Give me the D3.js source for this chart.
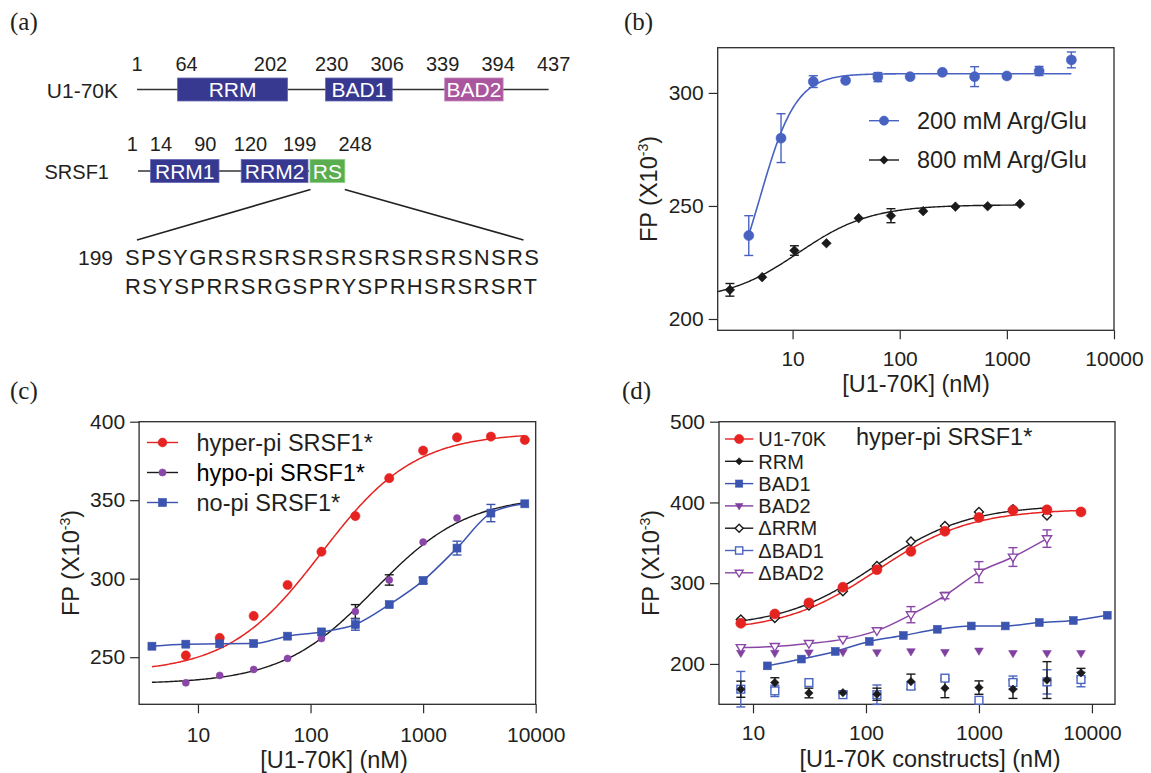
<!DOCTYPE html>
<html>
<head>
<meta charset="utf-8">
<script src="https://cdn.jsdelivr.net/npm/d3@7"></script>
<style>
  body { margin: 0; background: #ffffff; }
  svg { display: block; }
</style>
</head>
<body>
<svg id="fig" width="1151" height="773"></svg>
<script>
// ---------------- (a) domain schematics ----------------
const u1Landmarks = [1, 64, 202, 230, 306, 339, 394, 437];
const u1DomainNames = ["RRM", "BAD1", "BAD2"];
const u1DomainStart = [64, 230, 339];
const u1DomainEnd = [202, 306, 394];

const srsf1Landmarks = [1, 14, 90, 120, 199, 248];
const srsf1DomainNames = ["RRM1", "RRM2", "RS"];
const srsf1DomainStart = [14, 120, 199];
const srsf1DomainEnd = [90, 199, 248];

const rsStartResidue = 199;
const rsSequenceLines = ["SPSYGRSRSRSRSRSRSRSRSNSRS", "RSYSPRRSRGSPRYSPRHSRSRSRT"];

// ---------------- (b) salt dependence ----------------
const concB200 = [3.9, 7.8, 15.6, 31.25, 62.5, 125, 250, 500, 1000, 2000, 4000];
const fpB200   = [236.9, 280, 305, 305.5, 307, 307.2, 309.1, 307.2, 307.5, 309.7, 314.6];
const errB200  = [8.8, 10.8, 2.6, 0, 2, 0, 0, 4.4, 0, 2, 3.5];

const concB800 = [2.6, 5.2, 10.4, 20.7, 41.4, 82.8, 165.6, 331, 662, 1325];
const fpB800   = [212.9, 218.5, 230.3, 233.5, 244.6, 245.7, 247.7, 249.7, 249.9, 250.9];
const errB800  = [2.8, 0, 2.1, 0, 0, 3.1, 0, 0, 0, 0];

// fitted binding isotherms (Hill equation)
const fitB200 = { bottom: 200, top: 308.5, ec50: 5.0, hill: 2.6, from: 3.9, to: 4000 };
const fitB800 = { bottom: 208, top: 250.5, ec50: 11.3, hill: 1.29, from: 2, to: 1325 };

// ---------------- (c) phosphorylation state ----------------
const concHyper = [7.8, 15.6, 31.25, 62.5, 125, 250, 500, 1000, 2000, 4000, 8000];
const fpHyper   = [251.1, 262.3, 276.3, 296, 317.2, 339.9, 364, 381.6, 390, 390.5, 388.4];

const concHypo = [7.8, 15.6, 31.25, 62.5, 125, 250, 500, 1000, 2000];
const fpHypo   = [233.7, 238.4, 242.2, 249.2, 261.9, 279.1, 299.2, 323.3, 338.6];
const errHypo  = [0, 0, 0, 0, 0, 4.4, 3.3, 0, 0];

const concNoPi = [3.9, 7.8, 15.6, 31.25, 62.5, 125, 250, 500, 1000, 2000, 4000, 8000];
const fpNoPi   = [257, 258.3, 258.5, 258.7, 263.4, 266.1, 270.8, 283.5, 298.8, 319.5, 341.8, 347.7];
const errNoPi  = [0, 0, 0, 0, 0, 0, 3.6, 0, 2, 4.4, 5.5, 0];

const fitHyper = { bottom: 240, top: 393, ec50: 125, hill: 1.05, from: 3.9, to: 8000 };
const fitHypo  = { bottom: 233, top: 353, ec50: 370, hill: 1.05, from: 3.9, to: 8000 };

// ---------------- (d) U1-70K constructs ----------------
const concD    = [7.8, 15.6, 31.25, 62.5, 125, 250, 500, 1000, 2000, 4000, 8000];
const fpU170K  = [250.3, 261.9, 275.6, 295, 316.7, 339.4, 364.3, 381.3, 390.4, 390.8, 388.3];
const fpRRM    = [168.7, 176.9, 164, 164.4, 162.5, 178.1, 170, 170.7, 168.7, 180, 188.9];
const errRRM   = [10, 6, 6, 2, 7.5, 9.3, 11.8, 8.3, 11.4, 22.8, 5.6];
const concBAD1 = [13.4, 26.8, 53.5, 107, 214, 428, 855, 1710, 3420, 6840, 13680];
const fpBAD1   = [197.6, 206, 215.5, 227.9, 235.2, 242.9, 247, 247, 251.3, 253.8, 260.3];
const fpBAD2   = [213.5, 213.5, 214, 214.6, 214.2, 215.5, 214.6, 216.3, 213.2, 213.2, 213.2];
const concDelta = [7.8, 15.6, 31.25, 62.5, 125, 250, 500, 1000, 2000, 4000];
const fpDRRM   = [254.9, 257, 272.3, 290, 321.2, 351.5, 370.9, 388.3, 391.7, 383.8];
const fpDBAD1  = [168.7, 166.6, 176.9, 161.9, 161.9, 172.5, 182.4, 155, 177, 177.8, 180.7];
const errDBAD1 = [22, 7, 0, 0, 12, 0, 3, 0, 8, 15, 9];
const fpDBAD2  = [220.4, 221.7, 225.4, 230.4, 241.2, 261, 284.7, 313.7, 332.4, 355.2];
const errDBAD2 = [0, 0, 0, 0, 0, 10, 4, 13, 11.6, 10.8];

const fitU170K = { bottom: 240, top: 392, ec50: 125, hill: 1.05, from: 7.8, to: 8000 };
const fitDRRM  = { bottom: 245, top: 397, ec50: 120, hill: 1.05, from: 7.8, to: 4000 };

const xTickValues = [10, 100, 1000, 10000];

// ---------------- styling ----------------
const FONT = "'Liberation Sans', Arial, Helvetica, sans-serif";
const SERIF = "'Liberation Serif', 'Times New Roman', serif";
const ink = "#231f20";
const axisInk = "#2b2b2b";
const RED = "#e52421";
const BLUE_B = "#4862c2";
const BLUE = "#3b54b0";
const PURPLE = "#8a46a6";
const PURPLE_D = "#8040a0";
const BLACK = "#1a1a1a";
const domainFill = { RRM: "#37388f", BAD1: "#37388f", BAD2: "#a9569f", RRM1: "#37388f", RRM2: "#37388f", RS: "#5bae4f" };
const domainEdge = { RRM: "#6667b5", BAD1: "#6667b5", BAD2: "#c587bd", RRM1: "#6667b5", RRM2: "#6667b5", RS: "#8bcf80" };

const svg = d3.select("#fig");

function txt(g, x, y, s, size, opts = {}) {
  return g.append("text").attr("x", x).attr("y", y)
    .attr("fill", opts.fill || ink)
    .attr("text-anchor", opts.anchor || "start")
    .style("font-family", opts.family || FONT)
    .style("font-size", size + "px")
    .text(s);
}

// ---------------- panel (a) ----------------
const ga = svg.append("g");
txt(ga, 10, 30, "(a)", 25, { family: SERIF });

// schematic (not to scale) residue-to-position mapping
const u1X = d3.scaleLinear().domain(u1Landmarks).range([137, 177.6, 287.5, 325.6, 392.2, 444.7, 503.1, 548.6]);
const u1LabelNudge = [0, 9, -17, 6, -5, -2, -5, 5];
const u1Y = 89.5, boxH = 23;

txt(ga, 118, u1Y + 8, "U1-70K", 21, { anchor: "end" });
ga.append("line").attr("x1", u1X(1)).attr("x2", u1X(437)).attr("y1", u1Y).attr("y2", u1Y)
  .attr("stroke", "#333").attr("stroke-width", 1.3);
u1DomainNames.forEach((n, i) => {
  const x0 = u1X(u1DomainStart[i]), x1 = u1X(u1DomainEnd[i]);
  ga.append("rect").attr("x", x0).attr("y", u1Y - boxH / 2).attr("width", x1 - x0).attr("height", boxH)
    .attr("fill", domainFill[n]).attr("stroke", domainEdge[n]).attr("stroke-width", 0.8);
  txt(ga, (x0 + x1) / 2, u1Y + 7.5, n, 21, { anchor: "middle", fill: "#ffffff" });
});
u1Landmarks.forEach((r, i) => txt(ga, u1X(r) + u1LabelNudge[i], 70.5, String(r), 20, { anchor: "middle" }));

const srX = d3.scaleLinear().domain(srsf1Landmarks).range([138, 150.6, 219, 241.2, 309, 344.8]);
const srLabelNudge = [-5.6, 10.3, -13.7, 9.3, -9.3, 10.4];
const srY = 171;

txt(ga, 109, srY + 7.5, "SRSF1", 20, { anchor: "end" });
ga.append("line").attr("x1", srX(1)).attr("x2", srX(rsStartResidue)).attr("y1", srY).attr("y2", srY)
  .attr("stroke", "#333").attr("stroke-width", 1.3);
srsf1DomainNames.forEach((n, i) => {
  const x0 = srX(srsf1DomainStart[i]) + (i === 2 ? 1 : 0), x1 = srX(srsf1DomainEnd[i]) - (i === 1 ? 1 : 0);
  ga.append("rect").attr("x", x0).attr("y", srY - boxH / 2).attr("width", x1 - x0).attr("height", boxH)
    .attr("fill", domainFill[n]).attr("stroke", domainEdge[n]).attr("stroke-width", 0.8);
  txt(ga, (x0 + x1) / 2, srY + 7.5, n, 21, { anchor: "middle", fill: "#ffffff" });
});
srsf1Landmarks.forEach((r, i) => txt(ga, srX(r) + srLabelNudge[i], 150.5, String(r), 20, { anchor: "middle" }));

// expansion of the RS domain into its sequence
const seqX = 125, seqY1 = 265, seqY2 = 294;
ga.append("line").attr("x1", srX(rsStartResidue) + 1.5).attr("y1", 189.5).attr("x2", 137).attr("y2", 240)
  .attr("stroke", "#222").attr("stroke-width", 1.6);
ga.append("line").attr("x1", srX(248)).attr("y1", 189.5).attr("x2", 523.5).attr("y2", 240)
  .attr("stroke", "#222").attr("stroke-width", 1.6);
txt(ga, 113, seqY1, String(rsStartResidue), 21, { anchor: "end" });
txt(ga, seqX, seqY1, rsSequenceLines[0], 22).attr("textLength", 414).attr("lengthAdjust", "spacing");
txt(ga, seqX, seqY2, rsSequenceLines[1], 22).attr("textLength", 412).attr("lengthAdjust", "spacing");

// ---------------- shared plotting helpers ----------------
function hillCurve(fit) {
  const lo = Math.log10(fit.from), hi = Math.log10(fit.to);
  return d3.range(0, 241).map(i => {
    const c = Math.pow(10, lo + (hi - lo) * i / 240);
    return [c, fit.bottom + (fit.top - fit.bottom) / (1 + Math.pow(fit.ec50 / c, fit.hill))];
  });
}

function buildPanel(cfg) {
  const g = svg.append("g");
  const x = d3.scaleLog().domain(cfg.xDomain).range([cfg.left, cfg.right]);
  const y = d3.scaleLinear().domain(cfg.yDomain).range([cfg.bottom, cfg.top]);
  const ya = g.append("g").attr("transform", `translate(${cfg.left},0)`)
    .call(d3.axisLeft(y).tickValues(cfg.yTicks).tickSize(9).tickPadding(5).tickFormat(d3.format("d")));
  const xa = g.append("g").attr("transform", `translate(0,${cfg.bottom})`)
    .call(d3.axisBottom(x).tickValues(xTickValues).tickSize(9).tickPadding(cfg.xPad).tickFormat(d3.format("d")));
  [ya, xa].forEach(a => {
    a.select(".domain").remove();
    a.selectAll("line").attr("stroke", axisInk).attr("stroke-width", 1.2);
    a.selectAll("text").attr("fill", ink).style("font-family", FONT).style("font-size", "21px");
  });
  g.append("rect").attr("x", cfg.left).attr("y", cfg.top)
    .attr("width", cfg.right - cfg.left).attr("height", cfg.bottom - cfg.top)
    .attr("fill", "none").attr("stroke", axisInk).attr("stroke-width", 1.3);
  // y title with superscript exponent
  const t = g.append("text")
    .attr("transform", `translate(${cfg.yTitleX + 8.4},${(cfg.top + cfg.bottom) / 2}) rotate(-90)`)
    .attr("text-anchor", "middle").attr("fill", ink)
    .style("font-family", FONT).style("font-size", "23.5px");
  t.append("tspan").text("FP (X10");
  t.append("tspan").attr("dy", -9).style("font-size", "14px").text("-3");
  t.append("tspan").attr("dy", 9).text(")");
  txt(g, cfg.xTitleX, cfg.xTitleY, cfg.xTitle, 23.5, { anchor: "middle" });
  txt(g, cfg.tagX, cfg.tagY, cfg.tag, 25, { family: SERIF });
  return { g, x, y };
}

const line = (p) => d3.line().x(d => p.x(d[0])).y(d => p.y(d[1]));

function drawCurve(p, pts, color, width, curve) {
  p.g.append("path").datum(pts)
    .attr("d", line(p).curve(curve || d3.curveLinear)(pts))
    .attr("fill", "none").attr("stroke", color).attr("stroke-width", width);
}

function errorBars(p, xs, ys, es, color, cap) {
  xs.forEach((c, i) => {
    const e = es[i];
    if (!e) return;
    const cx = p.x(c), y0 = p.y(ys[i] - e), y1 = p.y(ys[i] + e);
    const g = p.g.append("g").attr("stroke", color).attr("stroke-width", 1.4);
    g.append("line").attr("x1", cx).attr("x2", cx).attr("y1", y0).attr("y2", y1);
    g.append("line").attr("x1", cx - cap).attr("x2", cx + cap).attr("y1", y0).attr("y2", y0);
    g.append("line").attr("x1", cx - cap).attr("x2", cx + cap).attr("y1", y1).attr("y2", y1);
  });
}

// marker shapes, drawn centred on (cx, cy)
function marker(g, kind, cx, cy, sz, color) {
  const open = kind.startsWith("open");
  const fill = open ? "#ffffff" : color;
  const sw = open ? 1.4 : 0.6;
  const shape = kind.replace("open-", "");
  let el;
  if (shape === "circle") {
    el = g.append("circle").attr("cx", cx).attr("cy", cy).attr("r", sz);
  } else if (shape === "square") {
    el = g.append("rect").attr("x", cx - sz).attr("y", cy - sz).attr("width", 2 * sz).attr("height", 2 * sz);
  } else if (shape === "diamond") {
    el = g.append("path").attr("d", `M${cx},${cy - sz}L${cx + sz},${cy}L${cx},${cy + sz}L${cx - sz},${cy}Z`);
  } else if (shape === "tridown") {
    el = g.append("path").attr("d", `M${cx - sz},${cy - sz * 0.62}L${cx + sz},${cy - sz * 0.62}L${cx},${cy + sz * 1.05}Z`);
  }
  el.attr("fill", fill).attr("stroke", color).attr("stroke-width", sw);
  return el;
}

function points(p, xs, ys, kind, sz, color) {
  xs.forEach((c, i) => { if (ys[i] != null) marker(p.g, kind, p.x(c), p.y(ys[i]), sz, color); });
}

function legendRow(g, y, x0, x1, kind, sz, color, label, size, textX, textOpts = {}) {
  g.append("line").attr("x1", x0).attr("x2", x1).attr("y1", y).attr("y2", y)
    .attr("stroke", textOpts.lineColor || color).attr("stroke-width", 1.4);
  marker(g, kind, (x0 + x1) / 2, y, sz, color);
  return txt(g, textX, y + size * 0.36, label, size, textOpts);
}

const zip = (a, b) => a.map((v, i) => [v, b[i]]);

// ---------------- panel (b) ----------------
const pb = buildPanel({
  left: 717.7, right: 1114, top: 47.7, bottom: 330.3,
  xDomain: [2, 10000], yDomain: [195, 320], yTicks: [200, 250, 300], xPad: 12,
  yTitleX: 649, xTitle: "[U1-70K] (nM)", xTitleX: 916, xTitleY: 392,
  tag: "(b)", tagX: 624, tagY: 30
});
drawCurve(pb, hillCurve(fitB200), BLUE_B, 1.6);
drawCurve(pb, hillCurve(fitB800), BLACK, 1.4);
errorBars(pb, concB200, fpB200, errB200, BLUE_B, 4.5);
errorBars(pb, concB800, fpB800, errB800, BLACK, 4.5);
points(pb, concB200, fpB200, "circle", 5, BLUE_B);
points(pb, concB800, fpB800, "diamond", 4.8, BLACK);
legendRow(pb.g, 120.7, 869, 899, "circle", 4.6, BLUE_B, "200 mM Arg/Glu", 23.5, 917);
legendRow(pb.g, 160, 869, 899, "diamond", 4.2, BLACK, "800 mM Arg/Glu", 23.5, 917);

// ---------------- panel (c) ----------------
const pc = buildPanel({
  left: 139.1, right: 535.7, top: 421.7, bottom: 704.3,
  xDomain: [3, 10000], yDomain: [220, 400], yTicks: [250, 300, 350, 400], xPad: 14,
  yTitleX: 70.3, xTitle: "[U1-70K] (nM)", xTitleX: 334, xTitleY: 768,
  tag: "(c)", tagX: 10, tagY: 399
});
drawCurve(pc, hillCurve(fitHyper), RED, 1.5);
drawCurve(pc, hillCurve(fitHypo), BLACK, 1.4);
drawCurve(pc, zip(concNoPi, fpNoPi), BLUE, 1.5, d3.curveMonotoneX);
errorBars(pc, concHypo, fpHypo, errHypo, BLACK, 4.5);
errorBars(pc, concNoPi, fpNoPi, errNoPi, BLUE, 4.5);
points(pc, concHypo, fpHypo, "circle", 3.5, PURPLE);
points(pc, concHyper, fpHyper, "circle", 4.6, RED);
points(pc, concNoPi, fpNoPi, "square", 4, BLUE);
legendRow(pc.g, 442.5, 147, 178, "circle", 4.4, RED, "hyper-pi SRSF1*", 23.5, 196.5);
legendRow(pc.g, 472.5, 147, 178, "circle", 3.6, PURPLE, "hypo-pi SRSF1*", 23.5, 196.5,
  { lineColor: BLACK, fill: "#000000" });
legendRow(pc.g, 502.5, 147, 178, "square", 4, BLUE, "no-pi SRSF1*", 23.5, 196.5);

// ---------------- panel (d) ----------------
const pd = buildPanel({
  left: 719, right: 1115, top: 421.7, bottom: 704.3,
  xDomain: [5, 16000], yDomain: [150, 500], yTicks: [200, 300, 400, 500], xPad: 12,
  yTitleX: 650.2, xTitle: "[U1-70K constructs] (nM)", xTitleX: 930, xTitleY: 766.7,
  tag: "(d)", tagX: 622, tagY: 399
});
drawCurve(pd, zip(concBAD1, fpBAD1), BLUE, 1.5, d3.curveMonotoneX);
drawCurve(pd, zip(concDelta, fpDBAD2), PURPLE, 1.5, d3.curveMonotoneX);
drawCurve(pd, hillCurve(fitDRRM), BLACK, 1.4);
drawCurve(pd, hillCurve(fitU170K), RED, 1.5);
errorBars(pd, concDelta, fpDBAD2, errDBAD2, PURPLE, 4.5);
errorBars(pd, concD, fpDBAD1, errDBAD1, "#4a64c0", 4.5);
errorBars(pd, concD, fpRRM, errRRM, BLACK, 4.5);
points(pd, concD, fpBAD2, "tridown", 4.3, PURPLE_D);
points(pd, concBAD1, fpBAD1, "square", 3.9, BLUE);
points(pd, concDelta, fpDBAD2, "open-tridown", 4.6, PURPLE);
points(pd, concD, fpDBAD1, "open-square", 3.9, "#4a64c0");
points(pd, concD, fpRRM, "diamond", 4.2, BLACK);
points(pd, concDelta, fpDRRM, "open-diamond", 4.5, BLACK);
points(pd, concD, fpU170K, "circle", 5, RED);

const legD = [
  ["circle", 4.6, RED, "U1-70K"],
  ["diamond", 3.6, BLACK, "RRM"],
  ["square", 3.6, BLUE, "BAD1"],
  ["tridown", 3.8, PURPLE_D, "BAD2"],
  ["open-diamond", 4, BLACK, "\u0394RRM"],
  ["open-square", 3.6, "#4a64c0", "\u0394BAD1"],
  ["open-tridown", 4, PURPLE, "\u0394BAD2"]
];
legD.forEach((r, i) => legendRow(pd.g, 439 + i * 22.3, 725, 753.3, r[0], r[1], r[2], r[3], 20, 758.3));
txt(pd.g, 856, 445, "hyper-pi SRSF1*", 23.5);
</script>
</body>
</html>
